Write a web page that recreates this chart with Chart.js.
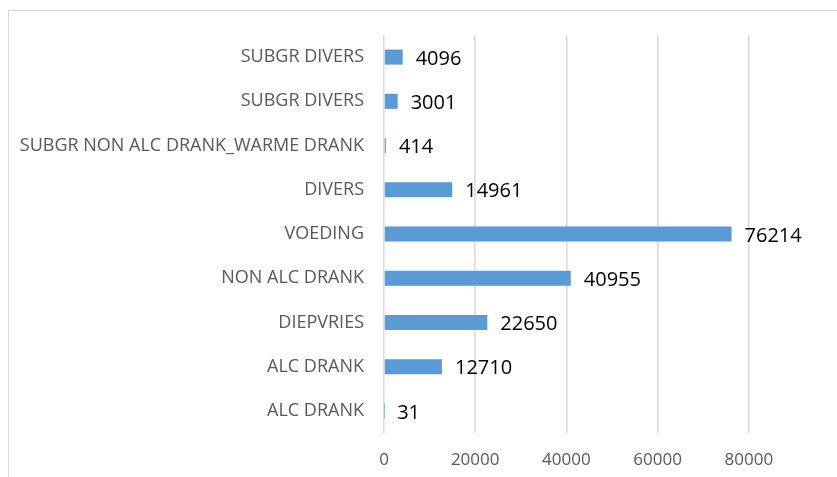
<!DOCTYPE html>
<html>
<head>
<meta charset="utf-8">
<script src="https://cdn.jsdelivr.net/npm/chart.js@4.4.1/dist/chart.umd.min.js"></script>
<style>
  html, body { margin: 0; padding: 0; background: #fff; overflow: hidden; }
  #frame {
    position: absolute; left: 8px; top: 10px; width: 900px; height: 500px;
    border-top: 1.5px solid #d9d9d9; border-left: 1.5px solid #d9d9d9;
  }
  #wrap { position: absolute; left: 0; top: 0; width: 857px; height: 477px; }
</style>
</head>
<body>
<div id="frame"></div>
<div id="wrap"><canvas id="chart"></canvas></div>
<script>
const categories = [
  "SUBGR DIVERS",
  "SUBGR DIVERS",
  "SUBGR NON ALC DRANK_WARME DRANK",
  "DIVERS",
  "VOEDING",
  "NON ALC DRANK",
  "DIEPVRIES",
  "ALC DRANK",
  "ALC DRANK",
];
const values = [4096, 3001, 414, 14961, 76214, 40955, 22650, 12710, 31];
const xTicks = [0, 20000, 40000, 60000, 80000];

const FONT = "'Open Sans', sans-serif";

// value labels next to each bar end
const barLabels = {
  id: "barLabels",
  afterDatasetsDraw(chart) {
    const ctx = chart.ctx;
    const meta = chart.getDatasetMeta(0);
    ctx.save();
    ctx.font = "20px " + FONT;
    ctx.fillStyle = "#000";
    ctx.textAlign = "left";
    ctx.textBaseline = "middle";
    meta.data.forEach((bar, i) => {
      ctx.fillText(String(values[i]), bar.x + 13, bar.y + 2);
    });
    ctx.restore();
  },
};

new Chart(document.getElementById("chart"), {
  type: "bar",
  data: {
    labels: categories,
    datasets: [
      {
        data: values,
        backgroundColor: "#5b9bd5",
        borderWidth: 0,
        barPercentage: 0.68,
        categoryPercentage: 0.5,
      },
    ],
  },
  options: {
    indexAxis: "y",
    responsive: true,
    maintainAspectRatio: false,
    animation: false,
    layout: { padding: { top: 35, right: 11, left: 0, bottom: 0 } },
    plugins: { legend: { display: false }, tooltip: { enabled: false } },
    scales: {
      x: {
        min: 0,
        max: 100000,
        afterBuildTicks: (scale) => {
          scale.ticks = xTicks.concat([100000]).map((v) => ({ value: v }));
        },
        afterFit: (scale) => { scale.height = 44; },
        grid: { color: "#d9d9d9", lineWidth: 1.5, drawTicks: false },
        border: { display: false },
        ticks: {
          padding: 17,
          color: "#595959",
          font: { family: FONT, size: 17 },
          maxRotation: 0,
          callback: (v) => (xTicks.includes(v) ? String(v) : ""),
        },
      },
      y: {
        afterFit: (scale) => { scale.width = 384; },
        grid: { display: false, drawTicks: false },
        border: { display: false },
        ticks: {
          padding: 20,
          color: "#595959",
          font: { family: FONT, size: 18 },
        },
      },
    },
  },
  plugins: [barLabels],
});
</script>
</body>
</html>
